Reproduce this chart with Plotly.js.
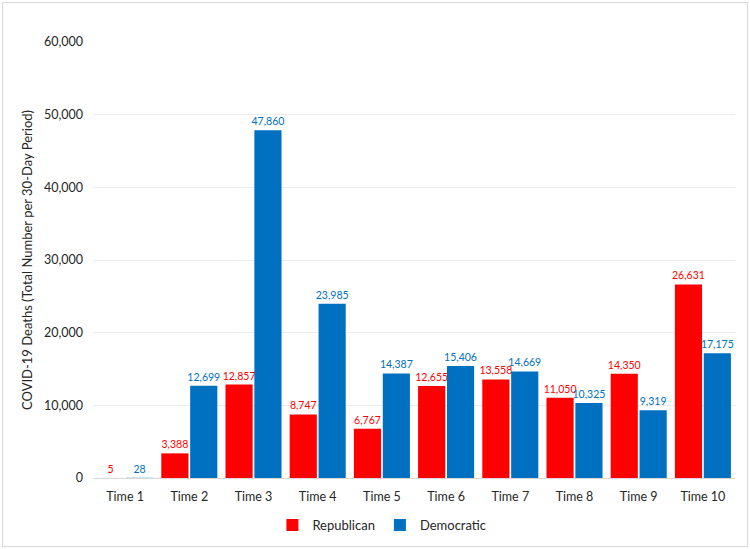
<!DOCTYPE html>
<html><head><meta charset="utf-8">
<script src="https://cdn.plot.ly/plotly-3.0.1.min.js"></script>
<style>
body{margin:0;padding:0;background:#fff;}
#wrap{position:relative;width:750px;height:549px;}
#chart{position:absolute;left:0;top:0;width:750px;height:549px;}
#frame{position:absolute;left:2px;top:2px;width:744px;height:543px;border:1px solid #d9d9d9;pointer-events:none;}
</style></head>
<body>
<div id="wrap"><div id="chart"></div><div id="frame"></div></div>
<script>
const categories = ["Time 1","Time 2","Time 3","Time 4","Time 5","Time 6","Time 7","Time 8","Time 9","Time 10"];
const republican = [5,3388,12857,8747,6767,12655,13558,11050,14350,26631];
const democratic = [28,12699,47860,23985,14387,15406,14669,10325,9319,17175];
const yTickVals = [0,10000,20000,30000,40000,50000,60000];
const yTickText = ["0","10,000","20,000","30,000","40,000","50,000","60,000"];

const fmt = v => v.toLocaleString("en-US");
const FONT = "Lato, 'Open Sans', sans-serif";

const traces = [
  {type:"bar", name:"Republican", x:categories, y:republican,
   marker:{color:"#ff0000"}, text:republican.map(fmt), textposition:"outside",
   constraintext:"none",
   textfont:{color:"#ff0000", size:10.5, family:FONT}, cliponaxis:false},
  {type:"bar", name:"Democratic", x:categories, y:democratic,
   marker:{color:"#0070c0"}, text:democratic.map(fmt), textposition:"outside",
   constraintext:"none",
   textfont:{color:"#0070c0", size:10.5, family:FONT}, cliponaxis:false}
];

const layout = {
  width:750, height:549,
  margin:{l:93, r:15, t:42, b:71, autoexpand:false},
  paper_bgcolor:"#fff", plot_bgcolor:"#fff",
  font:{family:FONT, size:12.5, color:"#262626"},
  barmode:"group", bargap:0.1, bargroupgap:0.06,
  showlegend:true,
  legend:{orientation:"h", x:0.45, xanchor:"center", y:-0.108, yanchor:"middle",
          font:{size:13, color:"#262626"}, traceorder:"normal", itemwidth:30},
  xaxis:{type:"category", tickfont:{size:12.5}, showgrid:false, showline:true,
         linecolor:"#d9d9d9", linewidth:1, ticks:"", ticklabelstandoff:7, tickangle:0},
  yaxis:{range:[0,60000], tickvals:yTickVals, ticktext:yTickText, showgrid:true,
         gridcolor:"#ececec", gridwidth:1, zeroline:false, showline:false, ticks:"",
         tickfont:{size:12.5}, ticklabelstandoff:9,
         title:{text:"COVID-19 Deaths (Total Number per 30-Day Period)", font:{size:13, color:"#262626"}, standoff:8}}
};

Plotly.newPlot("chart", traces, layout, {displayModeBar:false, staticPlot:true});
</script>
</body></html>
